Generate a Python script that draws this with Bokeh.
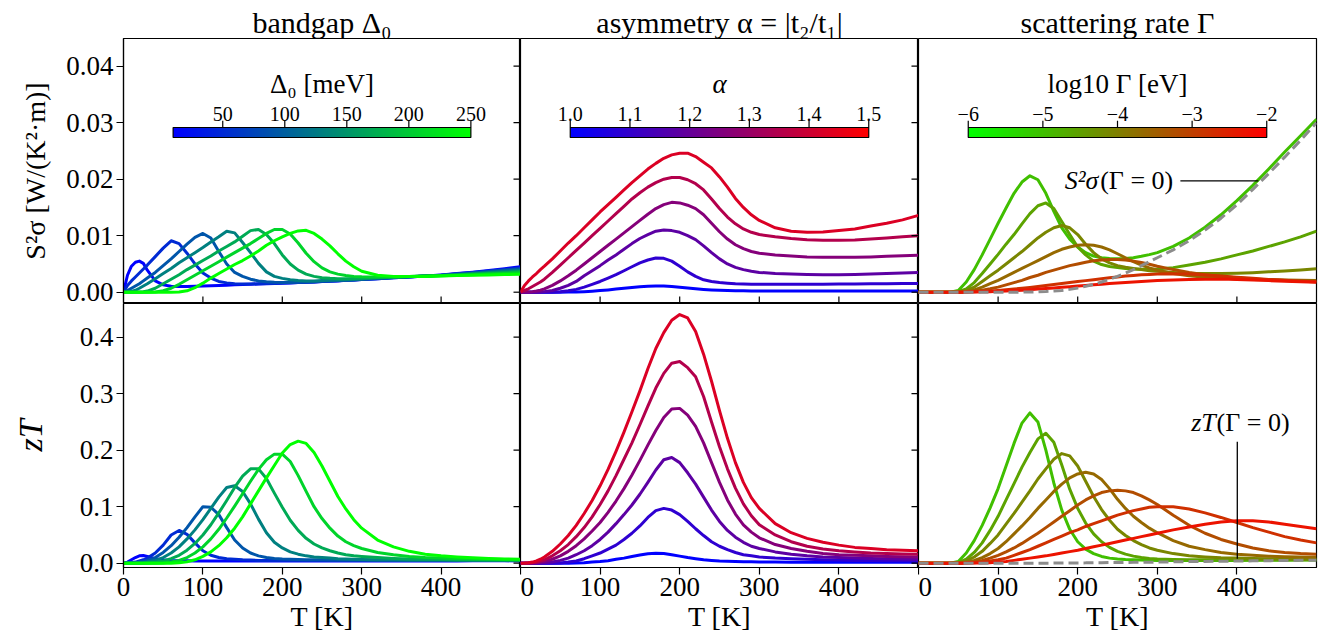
import numpy as np
from bokeh.plotting import figure
from bokeh.models import Range1d, LinearAxis, FixedTicker, PrintfTickFormatter
from bokeh.layouts import row, column
from bokeh.embed import file_html
from bokeh.resources import INLINE
from bokeh.core.properties import value

FONT = "Liberation Serif"

# ---------------- data ----------------
T = [0, 5, 10, 15, 20, 25, 30,
     40, 50, 60, 70, 80, 90, 100, 110, 120, 130, 140, 150, 160, 170, 180, 190, 200,
     210, 220, 230, 240, 250, 260, 270, 280, 290, 300,
     320, 340, 360, 380, 400, 420, 440, 460, 480, 500]

x_ticks = [0, 100, 200, 300, 400]
S2s_ticks = [0.00, 0.01, 0.02, 0.03, 0.04]
zT_ticks = [0.0, 0.1, 0.2, 0.3, 0.4]

# bandgap series, Delta_0 in meV ; S^2 sigma in 1e-3 W/(K^2 m)
gap_values = [10, 50, 90, 130, 170, 210, 250]
gap_cbar_ticks = [50, 100, 150, 200, 250]
gap_S2s = [
    [0, 3.0, 4.6, 5.3, 5.5, 5.1, 3.9,
     2.0, 1.3, 1.05, 1.0, 1.0, 1.05, 1.1, 1.15, 1.2, 1.25, 1.3, 1.35, 1.4, 1.45, 1.5, 1.55, 1.6,
     1.65, 1.7, 1.75, 1.8, 1.9, 1.95, 2.0, 2.1, 2.15, 2.25,
     2.4, 2.55, 2.7, 2.85, 3.05, 3.3, 3.55, 3.85, 4.15, 4.5],
    [0, 1.2, 2.0, 2.7, 3.4, 4.1, 4.8,
     6.3, 7.8, 9.1, 8.6, 6.9, 5.0, 3.4, 2.5, 1.9, 1.65, 1.5, 1.45, 1.45, 1.5, 1.52, 1.56, 1.62,
     1.67, 1.72, 1.77, 1.82, 1.9, 1.96, 2.02, 2.1, 2.16, 2.25,
     2.4, 2.55, 2.7, 2.85, 3.0, 3.25, 3.5, 3.75, 4.0, 4.3],
    [0, 0.3, 0.7, 1.1, 1.5, 2.0, 2.5,
     3.5, 4.7, 5.9, 7.2, 8.5, 9.7, 10.4, 9.6, 7.2, 5.0, 3.5, 2.8, 2.3, 2.0, 1.85, 1.75, 1.7,
     1.72, 1.75, 1.8, 1.85, 1.92, 1.98, 2.05, 2.12, 2.18, 2.28,
     2.42, 2.58, 2.72, 2.85, 3.0, 3.2, 3.4, 3.65, 3.9, 4.1],
    [0, 0.03, 0.15, 0.35, 0.7, 1.1, 1.5,
     2.4, 3.3, 4.2, 5.2, 6.1, 7.0, 7.9, 8.9, 9.8, 10.8, 10.5, 8.8, 7.0, 5.1, 3.6, 2.8, 2.45,
     2.2, 2.05, 2.0, 2.0, 2.05, 2.1, 2.15, 2.2, 2.25, 2.35,
     2.5, 2.62, 2.75, 2.85, 2.95, 3.1, 3.3, 3.5, 3.7, 3.9],
    [0, 0, 0.01, 0.02, 0.05, 0.1, 0.2,
     0.7, 1.5, 2.3, 3.1, 4.0, 4.8, 5.6, 6.4, 7.3, 8.1, 8.9, 9.9, 10.9, 11.1, 10.2, 8.6, 6.6,
     5.0, 3.9, 3.2, 2.8, 2.55, 2.45, 2.4, 2.4, 2.42, 2.47,
     2.58, 2.68, 2.78, 2.85, 2.95, 3.05, 3.2, 3.35, 3.5, 3.65],
    [0, 0, 0, 0, 0, 0, 0,
     0.05, 0.25, 0.7, 1.4, 2.2, 3.0, 3.8, 4.6, 5.4, 6.2, 7.0, 7.8, 8.6, 9.5, 10.4, 11.1, 11.1,
     10.3, 8.7, 6.9, 5.4, 4.3, 3.6, 3.2, 2.95, 2.8, 2.72,
     2.7, 2.74, 2.8, 2.85, 2.9, 3.0, 3.1, 3.2, 3.3, 3.45],
    [0, 0, 0, 0, 0, 0, 0,
     0, 0, 0, 0.02, 0.25, 0.8, 1.6, 2.5, 3.3, 4.1, 4.9, 5.6, 6.4, 7.3, 8.3, 9.1, 9.8,
     10.4, 10.85, 10.95, 10.4, 9.4, 8.2, 6.8, 5.5, 4.5, 3.7,
     3.0, 2.8, 2.8, 2.8, 2.88, 2.95, 3.0, 3.05, 3.12, 3.2],
]
gap_zT = [
    [0, 0.002, 0.006, 0.010, 0.013, 0.0135, 0.012,
     0.008, 0.006, 0.005, 0.0045, 0.0042, 0.004, 0.004, 0.004, 0.004, 0.004, 0.004, 0.004, 0.004,
     0.004, 0.004, 0.004, 0.004, 0.004, 0.004, 0.004, 0.004, 0.004, 0.004, 0.004, 0.004, 0.004, 0.004,
     0.004, 0.004, 0.004, 0.004, 0.004, 0.004, 0.0042, 0.0043, 0.0044, 0.0045],
    [0, 0.0005, 0.001, 0.002, 0.004, 0.006, 0.009,
     0.018, 0.032, 0.050, 0.058, 0.051, 0.036, 0.022, 0.014, 0.010, 0.008, 0.007, 0.006, 0.0055,
     0.005, 0.005, 0.005, 0.005, 0.005, 0.005, 0.005, 0.005, 0.005, 0.005, 0.005, 0.005, 0.005, 0.005,
     0.005, 0.005, 0.005, 0.005, 0.005, 0.005, 0.0048, 0.0047, 0.0046, 0.0045],
    [0, 0, 0.0005, 0.001, 0.002, 0.003, 0.005,
     0.010, 0.019, 0.031, 0.046, 0.063, 0.082, 0.100, 0.099, 0.086, 0.063, 0.041, 0.027, 0.018,
     0.013, 0.010, 0.0085, 0.0075, 0.007, 0.0065, 0.0062, 0.006, 0.006, 0.0058, 0.0057, 0.0056, 0.0055, 0.0055,
     0.0054, 0.0053, 0.0052, 0.0052, 0.0051, 0.0051, 0.005, 0.005, 0.005, 0.005],
    [0, 0, 0, 0, 0.0005, 0.001, 0.002,
     0.005, 0.010, 0.018, 0.029, 0.043, 0.059, 0.077, 0.097, 0.117, 0.134, 0.137, 0.127, 0.105,
     0.078, 0.054, 0.037, 0.027, 0.020, 0.016, 0.013, 0.011, 0.010, 0.009, 0.008, 0.0075, 0.007, 0.0065,
     0.006, 0.006, 0.0058, 0.0056, 0.0055, 0.0054, 0.0053, 0.0052, 0.0051, 0.005],
    [0, 0, 0, 0, 0, 0, 0.0005,
     0.0015, 0.004, 0.008, 0.014, 0.023, 0.035, 0.050, 0.068, 0.089, 0.111, 0.134, 0.154, 0.167,
     0.167, 0.150, 0.124, 0.099, 0.076, 0.058, 0.044, 0.034, 0.027, 0.022, 0.018, 0.015, 0.013, 0.012,
     0.010, 0.0085, 0.0075, 0.007, 0.0065, 0.0062, 0.006, 0.0058, 0.0056, 0.0055],
    [0, 0, 0, 0, 0, 0, 0,
     0, 0.0005, 0.002, 0.005, 0.010, 0.018, 0.029, 0.043, 0.060, 0.080, 0.101, 0.123, 0.145,
     0.166, 0.183, 0.193, 0.193, 0.180, 0.155, 0.127, 0.100, 0.079, 0.062, 0.048, 0.038, 0.031, 0.026,
     0.019, 0.015, 0.012, 0.010, 0.009, 0.008, 0.0075, 0.007, 0.0065, 0.006],
    [0, 0, 0, 0, 0, 0, 0,
     0, 0, 0, 0.0008, 0.0025, 0.006, 0.012, 0.020, 0.031, 0.045, 0.062, 0.082, 0.105,
     0.128, 0.151, 0.173, 0.195, 0.210, 0.216, 0.212, 0.196, 0.172, 0.145, 0.118, 0.096, 0.077, 0.062,
     0.041, 0.029, 0.021, 0.016, 0.013, 0.011, 0.0095, 0.0085, 0.0075, 0.007],
]

# asymmetry series
alpha_values = [1.0, 1.09, 1.18, 1.26, 1.35, 1.43]
alpha_cbar_ticks = [1.0, 1.1, 1.2, 1.3, 1.4, 1.5]
alpha_S2s = [
    [0, 0, 0, 0, 0, 0, 0,
     0, 0, 0.02, 0.05, 0.1, 0.18, 0.28, 0.4, 0.55, 0.7, 0.85, 0.98, 1.07, 1.1, 1.08, 1.0, 0.88,
     0.74, 0.6, 0.48, 0.39, 0.33, 0.29, 0.26, 0.24, 0.23, 0.22,
     0.21, 0.2, 0.2, 0.2, 0.2, 0.2, 0.2, 0.2, 0.2, 0.2],
    [0, 0, 0, 0, 0, 0, 0,
     0, 0.1, 0.25, 0.5, 0.9, 1.4, 1.9, 2.5, 3.1, 3.8, 4.5, 5.2, 5.7, 6.05, 6.0, 5.5, 4.6,
     3.6, 2.8, 2.2, 1.9, 1.7, 1.6, 1.5, 1.45, 1.4, 1.4,
     1.4, 1.4, 1.4, 1.42, 1.44, 1.46, 1.48, 1.5, 1.52, 1.55],
    [0, 0, 0, 0, 0, 0.02, 0.1,
     0.3, 0.7, 1.2, 1.9, 2.9, 3.8, 4.7, 5.7, 6.6, 7.6, 8.6, 9.5, 10.2, 10.8, 11.0, 10.9, 10.6,
     10.0, 9.3, 8.2, 7.0, 5.9, 5.0, 4.4, 4.0, 3.7, 3.5,
     3.3, 3.2, 3.15, 3.1, 3.1, 3.15, 3.2, 3.3, 3.4, 3.5],
    [0, 0.02, 0.05, 0.1, 0.2, 0.35, 0.6,
     1.2, 2.0, 2.9, 3.9, 5.0, 6.1, 7.2, 8.3, 9.4, 10.5, 11.6, 12.7, 13.8, 14.8, 15.5, 15.9, 15.8,
     15.4, 14.8, 13.7, 12.2, 10.7, 9.4, 8.4, 7.7, 7.2, 6.9,
     6.6, 6.4, 6.25, 6.2, 6.2, 6.2, 6.25, 6.35, 6.45, 6.55],
    [0, 0.3, 0.6, 1.0, 1.4, 1.8, 2.3,
     3.5, 4.8, 6.1, 7.4, 8.7, 10.0, 11.3, 12.6, 13.9, 15.2, 16.5, 17.6, 18.6, 19.4, 20.0, 20.3, 20.3,
     19.9, 19.2, 18.1, 16.5, 14.8, 13.3, 12.1, 11.2, 10.6, 10.2,
     9.8, 9.5, 9.3, 9.2, 9.2, 9.25, 9.4, 9.6, 9.8, 10.0],
    [0, 1.2, 2.0, 2.7, 3.3, 4.0, 4.6,
     5.9, 7.3, 8.7, 10.0, 11.4, 12.8, 14.2, 15.5, 16.8, 18.1, 19.4, 20.6, 21.8, 22.8, 23.7, 24.3, 24.6,
     24.6, 24.0, 23.0, 22.0, 20.4, 18.6, 16.6, 15.0, 13.7, 12.7,
     11.4, 10.8, 10.6, 10.65, 10.9, 11.2, 11.7, 12.2, 12.8, 13.6],
]
alpha_zT = [
    [0, 0, 0, 0, 0, 0, 0,
     0, 0, 0, 0.0005, 0.001, 0.002, 0.003, 0.0045, 0.007, 0.009, 0.012, 0.0145, 0.0167, 0.0175, 0.017, 0.015, 0.0125,
     0.010, 0.008, 0.006, 0.005, 0.004, 0.0035, 0.003, 0.0027, 0.0025, 0.0022,
     0.002, 0.0019, 0.0018, 0.0017, 0.0016, 0.0016, 0.0015, 0.0015, 0.0015, 0.0015],
    [0, 0, 0, 0, 0, 0, 0,
     0, 0.0005, 0.002, 0.004, 0.008, 0.013, 0.018, 0.025, 0.032, 0.042, 0.053, 0.066, 0.081, 0.093, 0.097, 0.094, 0.086,
     0.074, 0.061, 0.049, 0.038, 0.030, 0.024, 0.019, 0.015, 0.013, 0.011,
     0.009, 0.008, 0.007, 0.006, 0.0055, 0.005, 0.0048, 0.0045, 0.0043, 0.004],
    [0, 0, 0, 0, 0, 0.0005, 0.001,
     0.002, 0.005, 0.009, 0.015, 0.022, 0.031, 0.042, 0.055, 0.070, 0.086, 0.103, 0.122, 0.143, 0.165, 0.183, 0.187, 0.178,
     0.160, 0.140, 0.117, 0.094, 0.074, 0.058, 0.046, 0.037, 0.030, 0.026,
     0.020, 0.016, 0.013, 0.011, 0.010, 0.009, 0.0085, 0.008, 0.0075, 0.007],
    [0, 0, 0, 0.0005, 0.001, 0.002, 0.003,
     0.007, 0.013, 0.021, 0.031, 0.043, 0.057, 0.072, 0.090, 0.110, 0.132, 0.156, 0.182, 0.209, 0.235, 0.258, 0.273, 0.274,
     0.262, 0.242, 0.213, 0.178, 0.143, 0.112, 0.087, 0.068, 0.055, 0.045,
     0.033, 0.026, 0.021, 0.017, 0.015, 0.014, 0.013, 0.012, 0.0115, 0.011],
    [0, 0.0001, 0.0005, 0.001, 0.002, 0.004, 0.006,
     0.013, 0.022, 0.033, 0.047, 0.063, 0.082, 0.104, 0.128, 0.155, 0.184, 0.213, 0.245, 0.278, 0.310, 0.336, 0.354, 0.357,
     0.346, 0.330, 0.295, 0.250, 0.206, 0.167, 0.133, 0.105, 0.084, 0.068,
     0.050, 0.038, 0.030, 0.025, 0.022, 0.020, 0.018, 0.017, 0.0165, 0.016],
    [0, 0.0003, 0.001, 0.002, 0.004, 0.007, 0.011,
     0.021, 0.034, 0.049, 0.067, 0.088, 0.111, 0.137, 0.166, 0.198, 0.232, 0.268, 0.305, 0.344, 0.380, 0.408, 0.430, 0.440,
     0.434, 0.410, 0.370, 0.322, 0.270, 0.221, 0.178, 0.143, 0.116, 0.097,
     0.070, 0.054, 0.044, 0.037, 0.032, 0.028, 0.026, 0.024, 0.023, 0.022],
]

# scattering-rate series, log10 Gamma [eV]
gamma_log = [-5.0, -4.55, -4.1, -3.65, -3.2, -2.75, -2.3]
gamma_cbar_ticks = [-6, -5, -4, -3, -2]
gamma0_S2s = [0, 0, 0, 0, 0, 0, 0,
              0, 0, 0, 0, 0, 0, 0, 0, 0, 0.01, 0.03, 0.06, 0.12, 0.2, 0.32, 0.5, 0.75,
              1.05, 1.4, 1.8, 2.3, 2.8, 3.4, 4.0, 4.7, 5.4, 6.1,
              7.5, 9.1, 11.0, 13.1, 15.5, 18.2, 21.0, 23.9, 26.9, 30.0]
gamma_S2s = [
    [0, 0, 0, 0, 0, 0, 0,
     0, 0.3, 1.8, 4.0, 6.6, 9.4, 12.2, 14.9, 17.5, 19.5, 20.6, 19.9, 17.5, 14.3, 11.4, 9.4, 8.0,
     7.0, 6.4, 6.1, 5.95, 5.9, 5.95, 6.1, 6.35, 6.65, 7.0,
     8.1, 9.6, 11.5, 13.7, 16.2, 18.9, 21.8, 24.8, 27.7, 30.6],
    [0, 0, 0, 0, 0, 0, 0,
     0, 0.1, 0.6, 1.7, 3.3, 5.0, 6.7, 8.5, 10.2, 12.1, 13.9, 15.3, 15.8, 14.8, 12.5, 10.2, 8.0,
     6.6, 5.5, 4.9, 4.55, 4.35, 4.2, 4.1, 4.05, 4.05, 4.1,
     4.35, 4.8, 5.3, 5.9, 6.6, 7.3, 8.1, 8.9, 9.8, 10.8],
    [0, 0, 0, 0, 0, 0, 0,
     0, 0.05, 0.3, 0.9, 1.9, 2.9, 3.9, 5.0, 6.1, 7.2, 8.4, 9.6, 10.6, 11.4, 11.8, 11.4, 10.2,
     8.5, 7.0, 5.9, 5.2, 4.7, 4.4, 4.2, 4.0, 3.8, 3.7,
     3.5, 3.35, 3.3, 3.3, 3.35, 3.45, 3.6, 3.75, 3.95, 4.15],
    [0, 0, 0, 0, 0, 0, 0,
     0, 0.02, 0.1, 0.4, 0.9, 1.5, 2.1, 2.8, 3.5, 4.2, 4.9, 5.6, 6.3, 7.0, 7.6, 8.0, 8.3,
     8.4, 8.3, 8.0, 7.5, 6.8, 6.1, 5.4, 4.8, 4.3, 3.9,
     3.3, 2.9, 2.65, 2.5, 2.35, 2.25, 2.2, 2.15, 2.1, 2.05],
    [0, 0, 0, 0, 0, 0, 0,
     0, 0.01, 0.05, 0.15, 0.35, 0.6, 0.9, 1.3, 1.7, 2.1, 2.6, 3.0, 3.5, 3.9, 4.3, 4.7, 5.0,
     5.3, 5.55, 5.7, 5.8, 5.8, 5.7, 5.5, 5.25, 4.95, 4.6,
     4.0, 3.5, 3.1, 2.8, 2.55, 2.35, 2.2, 2.05, 1.95, 1.85],
    [0, 0, 0, 0, 0, 0, 0,
     0, 0.005, 0.02, 0.06, 0.12, 0.2, 0.3, 0.42, 0.55, 0.7, 0.85, 1.0, 1.17, 1.35, 1.52, 1.7, 1.88,
     2.05, 2.22, 2.4, 2.55, 2.7, 2.85, 2.97, 3.07, 3.15, 3.2,
     3.25, 3.2, 3.05, 2.85, 2.65, 2.45, 2.25, 2.1, 1.95, 1.85],
    [0, 0, 0, 0, 0, 0, 0,
     0, 0.002, 0.01, 0.03, 0.06, 0.1, 0.15, 0.21, 0.28, 0.36, 0.45, 0.55, 0.65, 0.76, 0.87, 0.98, 1.09,
     1.2, 1.31, 1.42, 1.52, 1.62, 1.72, 1.81, 1.9, 1.98, 2.05,
     2.17, 2.26, 2.31, 2.33, 2.25, 2.15, 2.05, 1.95, 1.85, 1.75],
]
gamma0_zT = [0, 0, 0, 0, 0, 0, 0,
             0, 0, 0, 0, 0, 0, 0, 0, 0, 0, 0, 0, 0.0001, 0.0002, 0.0003, 0.0004, 0.0005,
             0.0006, 0.0008, 0.0009, 0.0011, 0.0012, 0.0014, 0.0015, 0.0017, 0.0018, 0.002,
             0.0024, 0.0028, 0.0031, 0.0034, 0.0038, 0.0042, 0.0045, 0.0048, 0.0051, 0.0053]
gamma_zT = [
    [0, 0, 0, 0, 0, 0, 0,
     0, 0.003, 0.018, 0.040, 0.067, 0.098, 0.132, 0.172, 0.212, 0.248, 0.266, 0.250, 0.200, 0.142, 0.094, 0.060, 0.038,
     0.025, 0.017, 0.012, 0.009, 0.0075, 0.0065, 0.006, 0.0055, 0.0052, 0.005,
     0.005, 0.005, 0.005, 0.005, 0.005, 0.0052, 0.0053, 0.0054, 0.0055, 0.0056],
    [0, 0, 0, 0, 0, 0, 0,
     0, 0.001, 0.007, 0.019, 0.036, 0.058, 0.083, 0.112, 0.141, 0.170, 0.196, 0.220, 0.230, 0.214, 0.174, 0.131, 0.097,
     0.071, 0.052, 0.038, 0.028, 0.021, 0.016, 0.0125, 0.010, 0.0085, 0.0075,
     0.0065, 0.006, 0.006, 0.006, 0.006, 0.006, 0.006, 0.006, 0.006, 0.006],
    [0, 0, 0, 0, 0, 0, 0,
     0, 0.0005, 0.004, 0.011, 0.021, 0.035, 0.050, 0.069, 0.088, 0.108, 0.128, 0.149, 0.167, 0.184, 0.194, 0.190, 0.172,
     0.145, 0.118, 0.095, 0.076, 0.060, 0.049, 0.040, 0.033, 0.027, 0.023,
     0.017, 0.013, 0.011, 0.0095, 0.009, 0.0085, 0.008, 0.008, 0.0075, 0.0075],
    [0, 0, 0, 0, 0, 0, 0,
     0, 0.0002, 0.0015, 0.005, 0.010, 0.017, 0.026, 0.038, 0.052, 0.066, 0.081, 0.097, 0.112, 0.127, 0.140, 0.151, 0.158,
     0.161, 0.158, 0.148, 0.132, 0.113, 0.097, 0.083, 0.072, 0.062, 0.054,
     0.040, 0.030, 0.024, 0.019, 0.016, 0.014, 0.0125, 0.0115, 0.011, 0.0105],
    [0, 0, 0, 0, 0, 0, 0,
     0, 0, 0.0005, 0.002, 0.005, 0.009, 0.014, 0.020, 0.027, 0.035, 0.044, 0.053, 0.063, 0.073, 0.083, 0.093, 0.103,
     0.112, 0.119, 0.125, 0.128, 0.129, 0.128, 0.125, 0.119, 0.112, 0.104,
     0.085, 0.067, 0.053, 0.042, 0.034, 0.027, 0.022, 0.019, 0.017, 0.016],
    [0, 0, 0, 0, 0, 0, 0,
     0, 0, 0.0002, 0.001, 0.002, 0.004, 0.006, 0.009, 0.014, 0.019, 0.024, 0.030, 0.036, 0.042, 0.048, 0.054, 0.059,
     0.065, 0.070, 0.075, 0.080, 0.085, 0.089, 0.093, 0.096, 0.099, 0.100,
     0.100, 0.096, 0.089, 0.081, 0.072, 0.063, 0.055, 0.047, 0.041, 0.036],
    [0, 0, 0, 0, 0, 0, 0,
     0, 0, 0, 0.0002, 0.0005, 0.001, 0.002, 0.003, 0.005, 0.007, 0.009, 0.011, 0.013, 0.0155, 0.018, 0.0205, 0.023,
     0.026, 0.029, 0.032, 0.035, 0.038, 0.041, 0.044, 0.047, 0.050, 0.053,
     0.059, 0.064, 0.069, 0.073, 0.075, 0.075, 0.073, 0.069, 0.065, 0.061],
]

for grp in (gap_S2s, gap_zT, alpha_S2s, alpha_zT, gamma_S2s, gamma_zT, [gamma0_S2s, gamma0_zT]):
    for s in grp:
        if len(s) != len(T):
            raise ValueError("series length %d != %d" % (len(s), len(T)))

# ---------------- styling / layout constants ----------------
TICK_FS = "27px"
LW = 3
S2S_RANGE = (-0.0020, 0.0449)
ZT_RANGE = (-0.0076, 0.4596)
CB_X0, CB_X1 = 62.5, 437.5          # colorbar extent along the T axis
CB_Y0, CB_Y1 = 0.02738, 0.02915     # colorbar extent in S2sigma units
TOP_H, BOT_H = 303, 336
BOT_BORDER = 72
TOP_FRAME_H, BOT_FRAME_H = 265, 264
W_LEFT, W_MID, W_RIGHT = 520, 398, 408
LEFT_BORDER = 123
FRAME_W = 397
TICK_PX = 7


def hexcol(r, g, b):
    return "#%02x%02x%02x" % (int(round(r)), int(round(g)), int(round(b)))


def rgb_gap(t):
    return (0.0, 255 * t, 255 * (1 - t))


def rgb_alpha(t):
    return (255 * t, 0.0, 255 * (1 - t))


def rgb_gamma(t):
    return (255 * t, 255 * (1 - t), 0.0)


def make_panel(width, height, yr, bl=0, br=0, bt=0, bb=0, title=None):
    p = figure(width=width, height=height, x_range=Range1d(0, 500), y_range=Range1d(*yr),
               x_axis_type=None, y_axis_type=None, output_backend="svg",
               toolbar_location=None, min_border_left=bl, min_border_right=br,
               min_border_top=bt, min_border_bottom=bb)
    p.outline_line_color = "black"
    p.outline_line_width = 1.2
    p.background_fill_color = "white"
    p.border_fill_color = "white"
    if title:
        p.title.text = title
        p.title.text_font = FONT
        p.title.text_font_size = "30px"
        p.title.text_font_style = "normal"
        p.title.text_color = "black"
        p.title.align = "center"
        p.title.standoff = 0
    return p


def add_axis(p, side, ticks, fmt=None, label=None, label_size="28px", label_style="normal",
             label_standoff=0):
    ax = LinearAxis(ticker=FixedTicker(ticks=ticks, minor_ticks=[]))
    ax.major_tick_in = 0
    ax.major_tick_out = TICK_PX
    ax.minor_tick_in = 0
    ax.minor_tick_out = 0
    ax.axis_line_color = "black"
    ax.axis_line_width = 1.2
    ax.major_tick_line_color = "black"
    ax.major_tick_line_width = 1.2
    ax.major_label_text_font = FONT
    ax.major_label_text_font_size = TICK_FS
    ax.major_label_text_color = "black"
    ax.major_label_standoff = 3
    if fmt:
        ax.formatter = PrintfTickFormatter(format=fmt)
    if label:
        ax.axis_label = label
        ax.axis_label_text_font = FONT
        ax.axis_label_text_font_size = label_size
        ax.axis_label_text_font_style = label_style
        ax.axis_label_text_color = "black"
        ax.axis_label_standoff = label_standoff
    p.add_layout(ax, side)
    return ax


def inner_ticks_right(p, ticks):
    dx = TICK_PX * 500.0 / FRAME_W
    p.segment(x0=[500 - dx] * len(ticks), y0=ticks, x1=[500] * len(ticks), y1=ticks,
              line_color="black", line_width=1.2)


def inner_ticks_bottom(p, ticks, yr, frame_h):
    dy = TICK_PX * (yr[1] - yr[0]) / frame_h
    p.segment(x0=ticks, y0=[yr[0]] * len(ticks), x1=ticks, y1=[yr[0] + dy] * len(ticks),
              line_color="black", line_width=1.2)


def add_colorbar(p, rgbfun, vmin, vmax, ticks, tick_labels, title, title_style="normal"):
    n = 256
    img = np.zeros((1, n), dtype=np.uint32)
    view = img.view(dtype=np.uint8).reshape((1, n, 4))
    for i in range(n):
        r, g, b = rgbfun(i / (n - 1))
        view[0, i, 0] = int(round(r))
        view[0, i, 1] = int(round(g))
        view[0, i, 2] = int(round(b))
        view[0, i, 3] = 255
    p.image_rgba(image=[img], x=CB_X0, y=CB_Y0, dw=CB_X1 - CB_X0, dh=CB_Y1 - CB_Y0)
    p.quad(left=[CB_X0], right=[CB_X1], bottom=[CB_Y0], top=[CB_Y1],
           fill_color=None, line_color="black", line_width=1.2)
    xs = [CB_X0 + (t - vmin) / (vmax - vmin) * (CB_X1 - CB_X0) for t in ticks]
    p.segment(x0=xs, y0=[CB_Y1] * len(xs), x1=xs, y1=[CB_Y1 + 0.0012] * len(xs),
              line_color="black", line_width=1.2)
    p.text(x=xs, y=[CB_Y1 + 0.0024] * len(xs), text=tick_labels,
           text_font=value(FONT), text_font_size="20px", text_align="center",
           text_baseline="alphabetic", text_color="black")
    p.text(x=[250], y=[0.0368], text=[title], text_font=value(FONT),
           text_font_size="27px", text_font_style=title_style, text_align="center",
           text_baseline="alphabetic", text_color="black")


def draw_lines(p, series, colors, scale=1.0):
    for s, c in zip(series, colors):
        p.line(T, [v * scale for v in s], line_color=c, line_width=LW, line_join="round")


gap_colors = [hexcol(*rgb_gap((d - 10) / 240)) for d in gap_values]
alpha_colors = [hexcol(*rgb_alpha((a - 1.0) / 0.5)) for a in alpha_values]
gamma_colors = [hexcol(*rgb_gamma((g + 6) / 4)) for g in gamma_log]

# ---------------- top row ----------------
tl = make_panel(W_LEFT, TOP_H, S2S_RANGE, bl=LEFT_BORDER, bt=38, title="bandgap Δ₀")
add_axis(tl, "left", S2s_ticks, fmt="%.2f", label="S²σ [W/(K²·m)]", label_size="28px",
         label_standoff=12)
draw_lines(tl, gap_S2s, gap_colors, 1e-3)
inner_ticks_right(tl, S2s_ticks)
inner_ticks_bottom(tl, x_ticks[1:], S2S_RANGE, TOP_FRAME_H)
add_colorbar(tl, rgb_gap, 10, 250, gap_cbar_ticks, [str(v) for v in gap_cbar_ticks], "Δ₀ [meV]")

tm = make_panel(W_MID, TOP_H, S2S_RANGE, bt=38, title="asymmetry α = |t₂/t₁|")
draw_lines(tm, alpha_S2s, alpha_colors, 1e-3)
inner_ticks_right(tm, S2s_ticks)
inner_ticks_bottom(tm, x_ticks[1:], S2S_RANGE, TOP_FRAME_H)
add_colorbar(tm, rgb_alpha, 1.0, 1.5, alpha_cbar_ticks, ["%.1f" % v for v in alpha_cbar_ticks],
             "α", title_style="italic")

tr = make_panel(W_RIGHT, TOP_H, S2S_RANGE, br=W_RIGHT - FRAME_W - 1, bt=38, title="scattering rate Γ")
draw_lines(tr, gamma_S2s, gamma_colors, 1e-3)
tr.line(T, [v * 1e-3 for v in gamma0_S2s], line_color="#8c8c8c", line_width=LW, line_dash="10 5")
inner_ticks_bottom(tr, x_ticks[1:], S2S_RANGE, TOP_FRAME_H)
add_colorbar(tr, rgb_gamma, -6, -2, gamma_cbar_ticks,
             ["\u2212%d" % abs(v) for v in gamma_cbar_ticks], "log10 Γ [eV]")
tr.text(x=[226], y=[0.0197], text=["S²σ"], text_font=value(FONT), text_font_size="26px",
        text_font_style="italic", text_align="right", text_baseline="middle", text_color="black")
tr.text(x=[320], y=[0.0197], text=["(Γ = 0)"], text_font=value(FONT), text_font_size="26px",
        text_align="right", text_baseline="middle", text_color="black")
tr.segment(x0=[329], y0=[0.0197], x1=[427], y1=[0.0197], line_color="black", line_width=1.3)

# ---------------- bottom row ----------------
bl_ = make_panel(W_LEFT, BOT_H, ZT_RANGE, bl=LEFT_BORDER, bb=BOT_BORDER)
add_axis(bl_, "left", zT_ticks, fmt="%.1f", label="zT", label_size="34px", label_style="italic",
         label_standoff=28)
add_axis(bl_, "below", x_ticks, label="T [K]", label_standoff=2)
draw_lines(bl_, gap_zT, gap_colors)
inner_ticks_right(bl_, zT_ticks)

bm = make_panel(W_MID, BOT_H, ZT_RANGE, bb=BOT_BORDER)
add_axis(bm, "below", x_ticks, label="T [K]", label_standoff=2)
draw_lines(bm, alpha_zT, alpha_colors)
inner_ticks_right(bm, zT_ticks)

br_ = make_panel(W_RIGHT, BOT_H, ZT_RANGE, br=W_RIGHT - FRAME_W - 1, bb=BOT_BORDER)
add_axis(br_, "below", x_ticks, label="T [K]", label_standoff=2)
draw_lines(br_, gamma_zT, gamma_colors)
br_.line(T, gamma0_zT, line_color="#8c8c8c", line_width=LW, line_dash="10 5")
br_.text(x=[373.5], y=[0.2496], text=["zT"], text_font=value(FONT), text_font_size="26px",
         text_font_style="italic", text_align="right", text_baseline="middle", text_color="black")
br_.text(x=[374.5], y=[0.2496], text=["(Γ = 0)"], text_font=value(FONT), text_font_size="26px",
         text_align="left", text_baseline="middle", text_color="black")
br_.segment(x0=[400.5], y0=[0.008], x1=[400.5], y1=[0.215], line_color="black", line_width=1.3)

layout = column(row(tl, tm, tr), row(bl_, bm, br_))

with open("out.html", "w") as f:
    f.write(file_html(layout, INLINE))
